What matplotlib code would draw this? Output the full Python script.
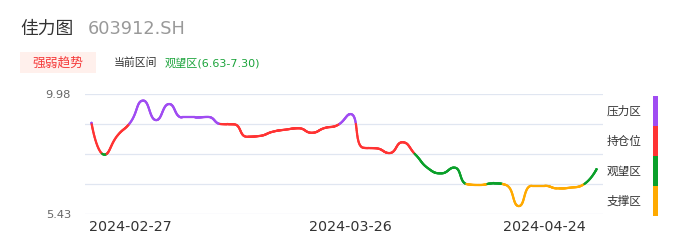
import numpy as np
import matplotlib
matplotlib.use("Agg")
import matplotlib.pyplot as plt
from matplotlib.collections import LineCollection
from matplotlib.patches import Rectangle

plt.rcParams["font.family"] = ["DejaVu Sans", "Noto Sans CJK SC"]

# price series (one value per category point)
prices = [8.89, 7.68, 8.40, 8.90, 9.73, 8.99, 9.60, 9.09, 9.09, 9.11,
          8.84, 8.83, 8.36, 8.39, 8.55, 8.63, 8.68, 8.51, 8.69, 8.80,
          9.22, 7.94, 7.92, 7.74, 8.15, 7.69, 7.16, 6.97, 7.19, 6.56,
          6.53, 6.59, 6.53, 5.73, 6.50, 6.50, 6.40, 6.43, 6.55, 7.13]

tick_index = [3, 20, 35]
tick_labels = ["2024-02-27", "2024-03-26", "2024-04-24"]

y_min, y_max = 5.43, 9.98

# zones, low to high
zone_names = ["支撑区", "观望区", "持仓位", "压力区"]
zone_colors = ["#FFAA00", "#0AA02A", "#FF3333", "#A04CF2"]
zone_bounds = [6.5675, 7.705, 8.8425]

AX_W, AX_H = 518, 120  # axes size in px


def smooth_curve(y, smooth=0.5, steps=30):
    """Bezier smoothing in screen space, control points clamped like echarts."""
    n = len(y)
    sx = AX_W / n
    sy = AX_H / (y_max - y_min)
    px = np.arange(n) * sx
    py = (np.asarray(y, dtype=float) - y_min) * sy
    cp_prev = np.column_stack([px, py]).astype(float)
    cp_next = cp_prev.copy()
    for i in range(1, n - 1):
        x0, y0 = px[i - 1], py[i - 1]
        x, yy = px[i], py[i]
        x1, y1 = px[i + 1], py[i + 1]
        len0 = np.hypot(x - x0, yy - y0)
        len1 = np.hypot(x1 - x, y1 - yy)
        ratio = len1 / (len0 + len1)
        nx = x + (x1 - x0) * smooth * ratio
        ny = yy + (y1 - y0) * smooth * ratio
        nx = min(max(nx, min(x, x1)), max(x, x1))
        ny = min(max(ny, min(yy, y1)), max(yy, y1))
        vx, vy = nx - x, ny - yy
        cx = x - vx * len0 / len1
        cy = yy - vy * len0 / len1
        cx = min(max(cx, min(x, x0)), max(x, x0))
        cy = min(max(cy, min(yy, y0)), max(yy, y0))
        vx, vy = x - cx, yy - cy
        cp_prev[i] = (cx, cy)
        cp_next[i] = (x + vx * len1 / len0, yy + vy * len1 / len0)
    t = np.linspace(0, 1, steps, endpoint=False)[:, None]
    out = []
    for i in range(n - 1):
        p0 = np.array([px[i], py[i]])
        p3 = np.array([px[i + 1], py[i + 1]])
        p1, p2 = cp_next[i], cp_prev[i + 1]
        out.append((1 - t) ** 3 * p0 + 3 * (1 - t) ** 2 * t * p1
                   + 3 * (1 - t) * t ** 2 * p2 + t ** 3 * p3)
    out.append(np.array([[px[-1], py[-1]]]))
    pts = np.vstack(out)
    return pts[:, 0] / sx, pts[:, 1] / sy + y_min


fig = plt.figure(figsize=(6.86, 2.47), dpi=100)
ax = fig.add_axes([85 / 686, 1 - 214 / 247, AX_W / 686, AX_H / 247])

xs, ys = smooth_curve(prices)
pts = np.column_stack([xs, ys]).reshape(-1, 1, 2)
segs = np.concatenate([pts[:-1], pts[1:]], axis=1)
mid = (ys[:-1] + ys[1:]) / 2
seg_colors = [zone_colors[np.searchsorted(zone_bounds, v)] for v in mid]
lc = LineCollection(segs, colors=seg_colors, linewidth=1.6, capstyle="round")
ax.add_collection(lc)

ax.set_xlim(-0.5, len(prices) - 0.5)
ax.set_ylim(y_min, y_max)
grid_vals = np.linspace(y_min, y_max, 5)
ax.set_yticks(grid_vals)
ax.set_yticklabels([f"{y_min:.2f}", "", "", "", f"{y_max:.2f}"])
ax.set_xticks(tick_index)
ax.set_xticklabels(tick_labels)
ax.tick_params(axis="y", length=0, pad=10, labelsize=8.2, labelcolor="#666666")
ax.tick_params(axis="x", length=0, pad=4, labelsize=10.3, labelcolor="#333333")
ax.grid(axis="y", color="#E0E6F1", linewidth=0.9)
ax.set_axisbelow(True)
for s in ax.spines.values():
    s.set_visible(False)

# header
fig.text(20 / 686, 1 - 29 / 247, "佳力图", fontsize=12.8, color="#333333", va="center")
fig.text(88 / 686, 1 - 29 / 247, "603912.SH", fontsize=12.8, color="#999999", va="center")

fig.patches.append(Rectangle((20 / 686, 1 - 73 / 247), 76 / 686, 20.5 / 247,
                             transform=fig.transFigure, facecolor="#FFF0EC",
                             edgecolor="none"))
fig.text(58 / 686, 1 - 63 / 247, "强弱趋势", fontsize=9.2, color="#F53A3A",
         ha="center", va="center")
fig.text(114 / 686, 1 - 63 / 247, "当前区间", fontsize=7.8, color="#333333", va="center")
fig.text(165 / 686, 1 - 63 / 247, "观望区(6.63-7.30)", fontsize=8, color="#1AA33A",
         va="center")

# zone legend on the right
bar_top = 96
for k, (name, col) in enumerate(zip(zone_names[::-1], zone_colors[::-1])):
    y0 = bar_top + 30 * k
    fig.patches.append(Rectangle((653 / 686, 1 - (y0 + 30) / 247), 4.5 / 686, 30 / 247,
                                 transform=fig.transFigure, facecolor=col,
                                 edgecolor="none"))
    fig.text(607 / 686, 1 - (y0 + 15) / 247, name, fontsize=8.4, color="#333333",
             va="center")

fig.savefig("out.png", dpi=100)
